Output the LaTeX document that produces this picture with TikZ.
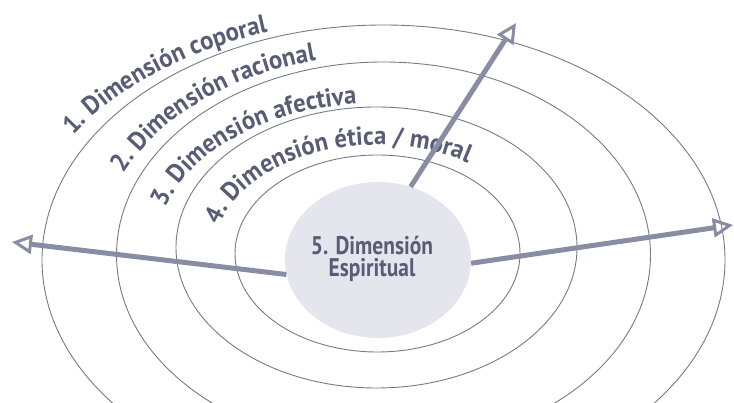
\documentclass[tikz,border=0pt]{standalone}
\usepackage{fontspec}
\setmainfont{PT Sans}
\newfontfamily\ringfont[FakeStretch=0.95]{PT Sans}
\newfontfamily\corefont[FakeStretch=0.84]{PT Sans}
\usetikzlibrary{arrows.meta, decorations.text, shapes.geometric}

\definecolor{ringgray}{RGB}{118,121,138}
\definecolor{raygray}{RGB}{137,141,163}
\definecolor{corefill}{RGB}{228,229,237}
\definecolor{labelblue}{RGB}{88,92,117}

\begin{document}
\begin{tikzpicture}[
            x=1pt, y=1pt,
            >={Triangle[open, length=20pt, width=19pt, line width'=3pt]},
            ring/.style={draw=ringgray, line width=0.9pt},
            ray/.style={draw=raygray, line width=5pt, ->},
            ring label/.style={
                decorate,
                decoration={
                    text along path,
                    text align=left,
                    text color=labelblue,
                    text={|\ringfont\bfseries\fontsize{26}{26}\selectfont|#1}
                }
            },
            core/.style={ellipse, fill=corefill, minimum width=186pt, minimum height=156pt, inner sep=0pt},
            core label/.style={font=\corefont\bfseries\fontsize{25.5}{21.5}\selectfont, text=labelblue, align=center},
        ]
        \useasboundingbox (0,0) rectangle (734,403);
        \clip (0,0) rectangle (734,403);

        % the four rings
        \draw[ring] (383.5,143) ellipse [x radius=341.5, y radius=235];
        \draw[ring] (383.5,148) ellipse [x radius=267, y radius=193];
        \draw[ring] (376.5,155.5) ellipse [x radius=200.5, y radius=140.5];
        \draw[ring] (377.5,149.5) ellipse [x radius=142.5, y radius=98.5];

        % labels along the rings
        \path[ring label={1. Dimensión coporal}]
            ([shift={(383.5,143)}]148.8:362.7 and 240.2)
            arc[start angle=148.8, end angle=40, x radius=362.7, y radius=240.2];
        \path[ring label={2. Dimensión racional}]
            ([shift={(383.5,148)}]156:284.2 and 200.4)
            arc[start angle=156, end angle=40, x radius=284.2, y radius=200.4];
        \path[ring label={3. Dimensión afectiva}]
            ([shift={(376.5,155.5)}]164:219.1 and 144.1)
            arc[start angle=164, end angle=30, x radius=219.1, y radius=144.1];
        \path[ring label={4. Dimensión ética / moral}]
            ([shift={(377.5,149.5)}]165:163.4 and 108.5)
            arc[start angle=165, end angle=0, x radius=163.4, y radius=108.5];

        % centre
        \node[core] (spirit) at (378,143) {};
        \node[core label] (spiritText) at (372,144) {5. Dimensión\\Espiritual};

        \coordinate (leftTip) at (12,161);
        \coordinate (rightTip) at (733,178);
        \coordinate (topTip) at (516,380);

        \draw[ray] (spirit.189) -- (leftTip);
        \draw[ray] (spirit.-2) -- (rightTip);
        \draw[ray] (spirit.66) -- (topTip);
        \end{tikzpicture}
\end{document}
